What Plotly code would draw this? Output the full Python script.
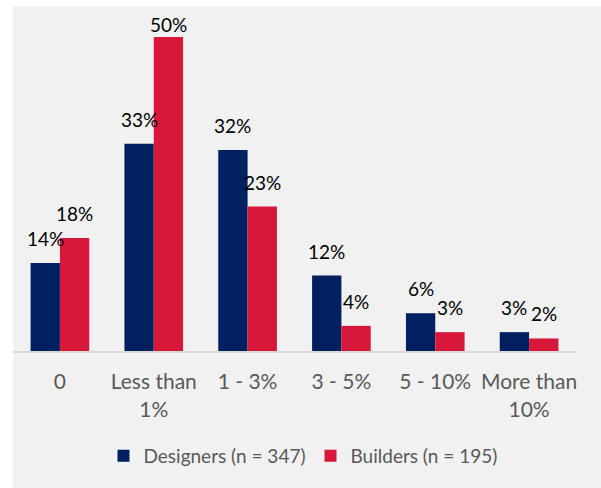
import plotly.graph_objects as go

# Share of respondents by budget range
categories = ["0", "Less than<br>1%", "1 - 3%", "3 - 5%", "5 - 10%", "More than<br>10%"]
designers = [14, 33, 32, 12, 6, 3]
builders = [18, 50, 23, 4, 3, 2]
series_names = ["Designers (n = 347)", "Builders (n = 195)"]

NAVY = "#002060"
RED = "#D7183B"
PANEL = "#F1F1F1"
FONT = "Lato"

W, H = 601, 488
M_L, M_R, M_T, M_B = 13, 25, 14, 137
PLOT_W = W - M_L - M_R
PLOT_H = H - M_T - M_B
Y_MAX = 53.65
BARGAP = 0.375

fig = go.Figure()
for name, vals, color in [(series_names[0], designers, NAVY), (series_names[1], builders, RED)]:
    fig.add_trace(go.Bar(
        x=list(range(len(categories))), y=vals, name=name,
        marker=dict(color=color, line=dict(width=0)),
        hoverinfo="skip",
    ))

# value labels above each bar, kept inside the plot area
px_per_unit = PLOT_H / Y_MAX
half = (1 - BARGAP) / 4
annotations = []
for offset, vals in [(-half, designers), (half, builders)]:
    for i, v in enumerate(vals):
        room = (Y_MAX - v) * px_per_unit
        shift = min(24.5, room - 10.5)
        annotations.append(dict(
            x=i + offset, y=v, xref="x", yref="y", text=f"{v}%",
            showarrow=False, yanchor="middle", xanchor="center", yshift=shift,
            font=dict(family=FONT, size=19, color="#000000"),
        ))

# light grey panel behind the chart
shapes = [dict(
    type="rect", xref="paper", yref="paper", layer="below",
    x0=0, x1=(W - M_L) / PLOT_W,
    y0=-M_B / PLOT_H, y1=(H - 6 - M_B) / PLOT_H,
    fillcolor=PANEL, line=dict(width=0),
)]

fig.update_layout(
    width=W, height=H,
    margin=dict(l=M_L, r=M_R, t=M_T, b=M_B, pad=0),
    paper_bgcolor="white", plot_bgcolor="rgba(0,0,0,0)",
    barmode="group", bargap=BARGAP, bargroupgap=0,
    showlegend=True,
    legend=dict(
        orientation="h", x=(303 - M_L) / PLOT_W, xanchor="center",
        y=-(456 - (H - M_B)) / PLOT_H, yanchor="middle",
        font=dict(family=FONT, size=19, color="#595959"),
        bgcolor="rgba(0,0,0,0)", itemclick=False,
    ),
    annotations=annotations,
    shapes=shapes,
    xaxis=dict(
        tickmode="array", tickvals=list(range(len(categories))), ticktext=categories,
        range=[-0.5, len(categories) - 0.5],
        showline=True, linecolor="#D9D9D9", linewidth=2,
        showgrid=False, zeroline=False, ticks="",
        ticklabelstandoff=11,
        tickfont=dict(family=FONT, size=21, color="#595959"),
    ),
    yaxis=dict(range=[0, Y_MAX], visible=False, showgrid=False, zeroline=False),
)

fig.write_html("out.html")
